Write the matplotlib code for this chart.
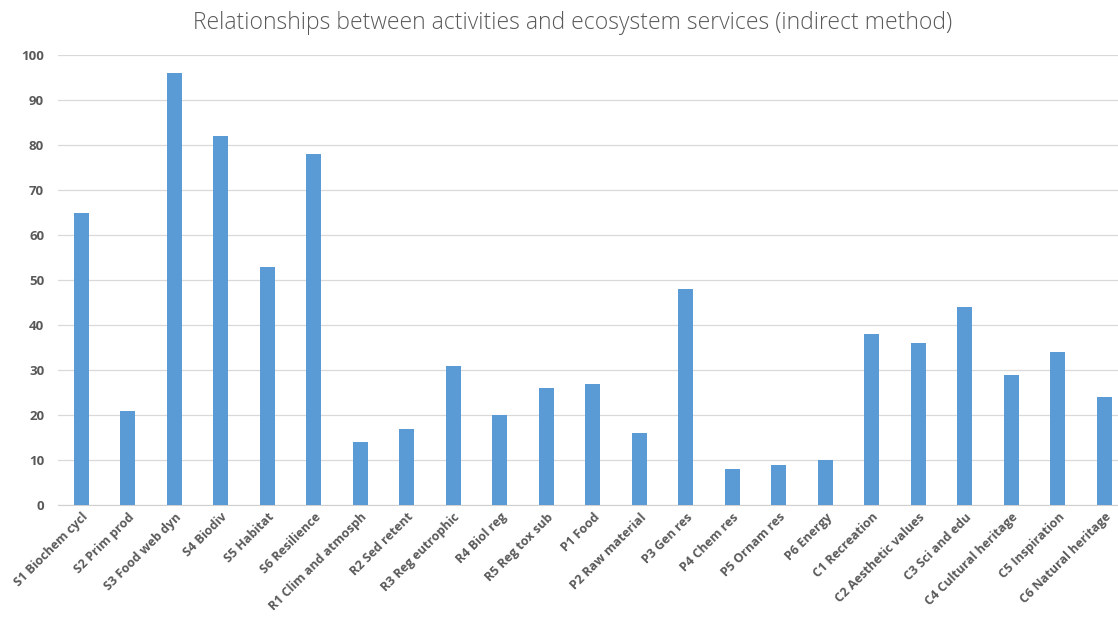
import matplotlib
matplotlib.use("Agg")
import matplotlib.pyplot as plt
import numpy as np

# ecosystem services and number of related activities
services = ["S1 Biochem cycl", "S2 Prim prod", "S3 Food web dyn", "S4 Biodiv",
            "S5 Habitat", "S6 Resilience", "R1 Clim and atmosph", "R2 Sed retent",
            "R3 Reg eutrophic", "R4 Biol reg", "R5 Reg tox sub", "P1 Food",
            "P2 Raw material", "P3 Gen res", "P4 Chem res", "P5 Ornam res",
            "P6 Energy", "C1 Recreation", "C2 Aesthetic values", "C3 Sci and edu",
            "C4 Cultural heritage", "C5 Inspiration", "C6 Natural heritage"]
counts = [65, 21, 96, 82, 53, 78, 14, 17, 31, 20, 26, 27, 16, 48, 8, 9, 10,
          38, 36, 44, 29, 34, 24]
yticks = [0, 10, 20, 30, 40, 50, 60, 70, 80, 90, 100]

fig = plt.figure(figsize=(11.18, 6.18), dpi=100)
ax = fig.add_axes([0.052, 0.1828, 0.9566, 0.728])

x = np.arange(len(services))
ax.bar(x, counts, width=0.32, color="#5B9BD5", zorder=3)

ax.set_xlim(-0.5, len(services) - 0.5)
ax.set_ylim(0, 100)
ax.set_yticks(yticks)
ax.set_xticks(x)
ax.set_xticklabels(services, rotation=45, ha="right", rotation_mode="anchor",
                   fontsize=9, color="#595959", fontweight="bold",
                   family="Open Sans")
for lab in ax.get_yticklabels():
    lab.set_fontsize(9.5)
    lab.set_color("#595959")
    lab.set_fontweight("bold")
    lab.set_family("Open Sans")

ax.grid(axis="y", color="#d9d9d9", linewidth=0.9, zorder=0)
for side in ["top", "right", "left"]:
    ax.spines[side].set_visible(False)
ax.spines["bottom"].set_color("#d0d0d0")
ax.tick_params(axis="both", length=0)
ax.tick_params(axis="y", pad=10)
ax.tick_params(axis="x", pad=4)

fig.text(0.512, 0.962, "Relationships between activities and ecosystem services (indirect method)",
         ha="center", va="center", fontsize=16.5, color="#595959",
         family="Open Sans", fontweight="light")

fig.savefig("out.png", dpi=100)
